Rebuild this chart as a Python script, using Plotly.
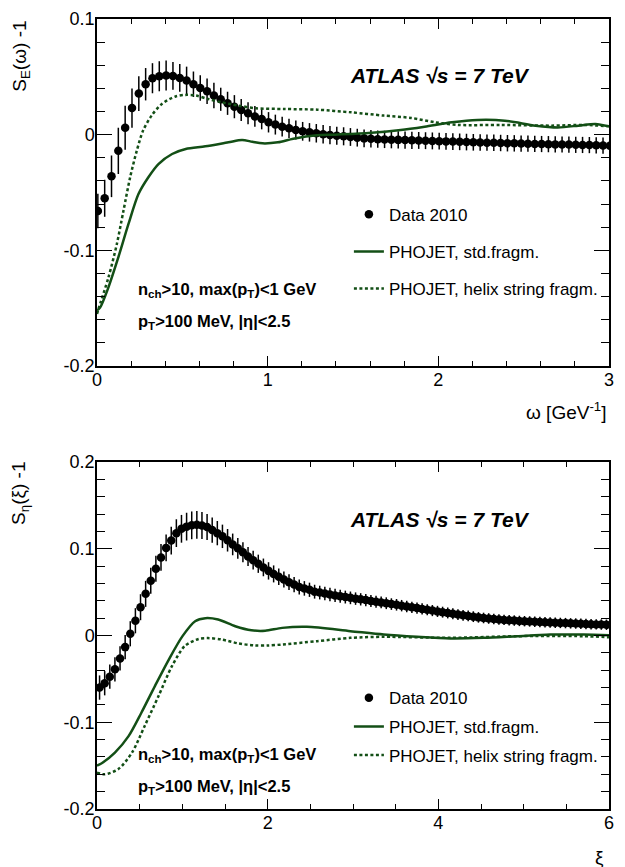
import plotly.graph_objects as go

# ---------------- Top panel: S_E(omega) - 1 ----------------
omega_data = [0.005 + 0.04 * k for k in range(76)]
se_data = [-0.066, -0.055, -0.036, -0.014, 0.006, 0.023, 0.0355, 0.0436, 0.0488, 0.0505,
           0.0511, 0.0508, 0.049, 0.0468, 0.0436, 0.0404, 0.0375, 0.0338, 0.0306, 0.0271,
           0.0242, 0.0214, 0.0185, 0.0158, 0.0136, 0.0107, 0.0087, 0.0069, 0.0055, 0.004,
           0.0029, 0.002, 0.0012, 0.0003, -0.0003, -0.0009, -0.0014, -0.002, -0.0026, -0.0032,
           -0.0036, -0.0039, -0.0041, -0.0043, -0.0045, -0.0047, -0.0049, -0.005, -0.0052, -0.0054,
           -0.0056, -0.0058, -0.006, -0.0062, -0.0064, -0.0066, -0.0067, -0.0069, -0.007, -0.0072,
           -0.0074, -0.0075, -0.0077, -0.0078, -0.008, -0.0081, -0.0082, -0.0084, -0.0085, -0.0086,
           -0.0088, -0.0089, -0.009, -0.0092, -0.0094, -0.0096]
se_err = [0.015, 0.016, 0.018, 0.02, 0.019, 0.017, 0.015, 0.014, 0.013, 0.013,
          0.013, 0.012, 0.012, 0.012, 0.011, 0.011, 0.011, 0.011, 0.010, 0.010,
          0.010, 0.0095, 0.0095, 0.009, 0.009, 0.0088, 0.0086, 0.0085, 0.0083, 0.0082,
          0.0081, 0.008, 0.008, 0.008, 0.0079, 0.0078, 0.0078, 0.0077, 0.0077, 0.0076,
          0.0076, 0.0075, 0.0075, 0.0075, 0.0074, 0.0074, 0.0074, 0.0073, 0.0073, 0.0073,
          0.0073, 0.0072, 0.0072, 0.0072, 0.0072, 0.0072, 0.0071, 0.0071, 0.0071, 0.0071,
          0.0071, 0.0071, 0.007, 0.007, 0.007, 0.007, 0.007, 0.007, 0.007, 0.007,
          0.007, 0.007, 0.007, 0.007, 0.007, 0.007]

omega_std = [0.0, 0.018, 0.067, 0.125, 0.184, 0.243, 0.30, 0.36, 0.44, 0.52, 0.635, 0.77, 0.85,
             0.91, 0.97, 1.06, 1.15, 1.29, 1.39, 1.59, 1.78, 1.92, 2.08, 2.23, 2.39, 2.57, 2.70,
             2.82, 2.92, 3.0]
se_std = [-0.152, -0.1495, -0.132, -0.106, -0.0774, -0.0513, -0.037, -0.0254, -0.0167, -0.0124,
          -0.0101, -0.0066, -0.0046, -0.0061, -0.0075, -0.0066, -0.0035, -0.0005, 0.0, 0.0014,
          0.004, 0.0069, 0.0107, 0.0127, 0.0121, 0.0078, 0.0063, 0.0078, 0.0093, 0.0072]

omega_helix = [0.0, 0.008, 0.067, 0.116, 0.155, 0.194, 0.233, 0.27, 0.32, 0.38, 0.46, 0.52, 0.58,
               0.65, 0.73, 0.83, 0.93, 1.1, 1.29, 1.49, 1.68, 1.84, 1.98, 2.12, 2.37, 2.66, 2.86,
               3.0]
se_helix = [-0.155, -0.151, -0.1235, -0.0947, -0.0658, -0.037, -0.0139, 0.0035, 0.0165, 0.0266,
            0.033, 0.0344, 0.0338, 0.0309, 0.028, 0.0251, 0.0228, 0.0222, 0.0216, 0.0193,
            0.0165, 0.0145, 0.0107, 0.0084, 0.0084, 0.0078, 0.0084, 0.0072]

# ---------------- Bottom panel: S_eta(xi) - 1 ----------------
xi_data = [0.03 + 0.06 * k for k in range(100)]
seta_data = [-0.060, -0.055, -0.0475, -0.039, -0.0264, -0.0134, 0.002, 0.017, 0.0326, 0.048,
             0.063, 0.077, 0.090, 0.101, 0.1095, 0.118, 0.123, 0.1255, 0.127, 0.1276,
             0.1268, 0.125, 0.1215, 0.118, 0.1143, 0.1098, 0.105, 0.1005, 0.096, 0.091,
             0.0868, 0.0827, 0.0785, 0.0745, 0.071, 0.0677, 0.0646, 0.0615, 0.0587, 0.056,
             0.0543, 0.0527, 0.0505, 0.0495, 0.0484, 0.0473, 0.0462, 0.0453, 0.0443, 0.0434,
             0.0425, 0.0417, 0.0408, 0.0398, 0.039, 0.0381, 0.0372, 0.0362, 0.0354, 0.0344,
             0.0335, 0.0325, 0.0316, 0.0306, 0.0297, 0.0287, 0.0278, 0.0269, 0.026, 0.0251,
             0.0242, 0.0233, 0.0225, 0.0217, 0.0209, 0.0202, 0.0196, 0.019, 0.0185, 0.018,
             0.0176, 0.0172, 0.0168, 0.0165, 0.0162, 0.0159, 0.0156, 0.0153, 0.015, 0.0147,
             0.0145, 0.0143, 0.014, 0.0138, 0.0135, 0.0133, 0.013, 0.0128, 0.0126, 0.0124]
seta_err = [0.014, 0.014, 0.014, 0.014, 0.014, 0.014, 0.0145, 0.0145, 0.015, 0.015,
            0.015, 0.015, 0.0155, 0.0155, 0.016, 0.016, 0.016, 0.016, 0.016, 0.016,
            0.0155, 0.015, 0.0145, 0.014, 0.0135, 0.013, 0.0125, 0.012, 0.0115, 0.011,
            0.0108, 0.0105, 0.0102, 0.01, 0.0098, 0.0095, 0.0092, 0.009, 0.0088, 0.0086,
            0.0084, 0.0082, 0.008, 0.0079, 0.0078, 0.0077, 0.0076, 0.0075, 0.0074, 0.0073,
            0.0072, 0.0071, 0.007, 0.007, 0.0069, 0.0068, 0.0068, 0.0067, 0.0067, 0.0066,
            0.0066, 0.0065, 0.0065, 0.0065, 0.0064, 0.0064, 0.0064, 0.0063, 0.0063, 0.0063,
            0.0062, 0.0062, 0.0062, 0.0062, 0.0061, 0.0061, 0.0061, 0.0061, 0.006, 0.006,
            0.006, 0.006, 0.006, 0.006, 0.006, 0.006, 0.006, 0.006, 0.006, 0.006,
            0.006, 0.006, 0.006, 0.006, 0.006, 0.006, 0.006, 0.006, 0.006, 0.006]

xi_std = [0.0, 0.06, 0.21, 0.37, 0.52, 0.68, 0.84, 1.0, 1.15, 1.27, 1.42, 1.62, 1.81, 1.97, 2.17,
          2.46, 2.97, 3.36, 3.75, 4.14, 4.53, 4.92, 5.31, 5.70, 6.0]
seta_std = [-0.150, -0.147, -0.135, -0.116, -0.089, -0.058, -0.028, -0.001, 0.0165, 0.020, 0.0184,
            0.0107, 0.006, 0.0055, 0.0088, 0.010, 0.005, 0.0011, -0.0015, -0.0034, -0.0027,
            -0.0008, 0.0011, 0.0011, 0.0004]

xi_helix = [0.0, 0.09, 0.25, 0.41, 0.56, 0.72, 0.88, 1.03, 1.19, 1.30, 1.46, 1.66, 1.85, 2.0, 2.18,
            2.58, 2.97, 3.36, 4.14, 4.92, 5.70, 6.0]
seta_helix = [-0.158, -0.16, -0.154, -0.135, -0.104, -0.070, -0.035, -0.012, -0.004, -0.003,
              -0.0046, -0.0092, -0.0115, -0.0115, -0.0103, -0.0065, -0.0027, -0.0015, -0.0027,
              -0.0008, -0.0008, -0.002]

legend_names = ["Data 2010", "PHOJET, std.fragm.", "PHOJET, helix string fragm."]

top_yticks = [-0.2, -0.1, 0.0, 0.1]
top_yticklabels = ["-0.2", "-0.1", "0", "0.1"]
bot_yticks = [-0.2, -0.1, 0.0, 0.1, 0.2]
bot_yticklabels = ["-0.2", "-0.1", "0", "0.1", "0.2"]

GREEN = "#134f16"
FONT = "Liberation Sans, Arial, Helvetica, sans-serif"

fig = go.Figure()


def add_panel(xd, yd, ed, xs, ys, xh, yh, xa, ya, leg):
    fig.add_trace(go.Scatter(
        x=xd, y=yd, mode="markers", name=legend_names[0],
        marker=dict(color="black", size=8.5, symbol="circle"),
        error_y=dict(type="data", array=ed, color="black", thickness=1.5, width=0),
        xaxis=xa, yaxis=ya, legend=leg, legendgroup=leg + "a", cliponaxis=True))
    fig.add_trace(go.Scatter(
        x=xs, y=ys, mode="lines", name=legend_names[1],
        line=dict(color=GREEN, width=2.5, shape="spline", smoothing=0.8),
        xaxis=xa, yaxis=ya, legend=leg, legendgroup=leg + "b"))
    fig.add_trace(go.Scatter(
        x=xh, y=yh, mode="lines", name=legend_names[2],
        line=dict(color=GREEN, width=2.5, shape="spline", smoothing=0.8, dash="3px,2.5px"),
        xaxis=xa, yaxis=ya, legend=leg, legendgroup=leg + "c"))


add_panel(omega_data, se_data, se_err, omega_std, se_std, omega_helix, se_helix, "x", "y", "legend")
add_panel(xi_data, seta_data, seta_err, xi_std, seta_std, xi_helix, seta_helix, "x2", "y2", "legend2")

tickfont = dict(family=FONT, size=18, color="black")


def xaxis_style(rng, dtick, minor_dtick, anchor, domain):
    return dict(range=rng, dtick=dtick, tick0=0, anchor=anchor, domain=domain, automargin=False,
                showline=True, linecolor="black", linewidth=1.5, mirror="allticks",
                ticks="inside", ticklen=10, tickwidth=1, tickcolor="black",
                minor=dict(dtick=minor_dtick, ticks="inside", ticklen=5, tickcolor="black", tickwidth=1),
                showgrid=False, zeroline=False, tickfont=tickfont, ticklabelstandoff=-3)


def yaxis_style(rng, anchor, domain, tv, tt):
    return dict(range=rng, tickmode="array", tickvals=tv, ticktext=tt, anchor=anchor, domain=domain,
                automargin=False,
                showline=True, linecolor="black", linewidth=1.5, mirror="allticks",
                ticks="inside", ticklen=15, tickwidth=1, tickcolor="black",
                minor=dict(dtick=0.02, tick0=0, ticks="inside", ticklen=8, tickcolor="black", tickwidth=1),
                showgrid=False, zeroline=False, tickfont=tickfont, ticklabelstandoff=-3)


H_TOP = 443 / 790

# The page body has an 8px margin, so the figure is offset by 8px; sizes compensate.
fig.update_layout(
    width=617, height=859,
    margin=dict(l=89, r=16, t=11, b=58, autoexpand=False),
    paper_bgcolor="white", plot_bgcolor="white",
    font=dict(family=FONT, color="black"),
    xaxis=xaxis_style([0, 3], 1, 0.2, "y", [0, 1]),
    yaxis=yaxis_style([-0.2, 0.1], "x", [H_TOP, 1], top_yticks, top_yticklabels),
    xaxis2=xaxis_style([0, 6], 2, 0.5, "y2", [0, 1]),
    yaxis2=yaxis_style([-0.2, 0.2], "x2", [0, 347 / 790], bot_yticks, bot_yticklabels),
    legend=dict(x=0.492, y=0.775, xanchor="left", yanchor="top", bgcolor="rgba(0,0,0,0)",
                font=dict(family=FONT, size=17, color="black"), tracegroupgap=12,
                itemwidth=30),
    legend2=dict(x=0.492, y=0.163, xanchor="left", yanchor="top", bgcolor="rgba(0,0,0,0)",
                 font=dict(family=FONT, size=17, color="black"), tracegroupgap=3.5,
                 itemwidth=30),
    showlegend=True,
)

ann = []
# y-axis titles
ann.append(dict(text="S<sub>E</sub>(ω) -1", xref="paper", yref="y domain", x=-0.15, y=1.0,
                xanchor="center", yanchor="top", textangle=-90, showarrow=False,
                font=dict(family=FONT, size=19)))
ann.append(dict(text="S<sub>η</sub>(ξ) -1", xref="paper", yref="y2 domain", x=-0.15, y=1.005,
                xanchor="center", yanchor="top", textangle=-90, showarrow=False,
                font=dict(family=FONT, size=19)))
# x-axis titles
ann.append(dict(text="ω [GeV<sup>-1</sup>]", xref="x domain", yref="y domain", x=1.0, y=-0.13,
                xanchor="right", yanchor="middle", showarrow=False, font=dict(family=FONT, size=19)))
ann.append(dict(text="ξ", xref="x2 domain", yref="y2 domain", x=0.995, y=-0.14,
                xanchor="right", yanchor="middle", showarrow=False, font=dict(family=FONT, size=19)))
# ATLAS labels
for xr, yr, yy in (("x domain", "y domain", 0.836), ("x2 domain", "y2 domain", 0.833)):
    ann.append(dict(text="<b><i>ATLAS √s = 7 TeV</i></b>", xref=xr, yref=yr, x=0.67, y=yy,
                    xanchor="center", yanchor="middle", showarrow=False,
                    font=dict(family=FONT, size=21)))
# selection text
for xr, yr, y1, y2 in (("x domain", "y domain", 0.219, 0.127), ("x2 domain", "y2 domain", 0.156, 0.063)):
    ann.append(dict(text="<b>n<sub>ch</sub>&gt;10, max(p<sub>T</sub>)&lt;1 GeV</b>", xref=xr, yref=yr,
                    x=0.076, y=y1, xanchor="left", yanchor="middle", showarrow=False,
                    font=dict(family=FONT, size=16.5)))
    ann.append(dict(text="<b>p<sub>T</sub>&gt;100 MeV, |η|&lt;2.5</b>", xref=xr, yref=yr,
                    x=0.076, y=y2, xanchor="left", yanchor="middle", showarrow=False,
                    font=dict(family=FONT, size=16.5)))

fig.update_layout(annotations=ann)

fig.write_html("out.html")
